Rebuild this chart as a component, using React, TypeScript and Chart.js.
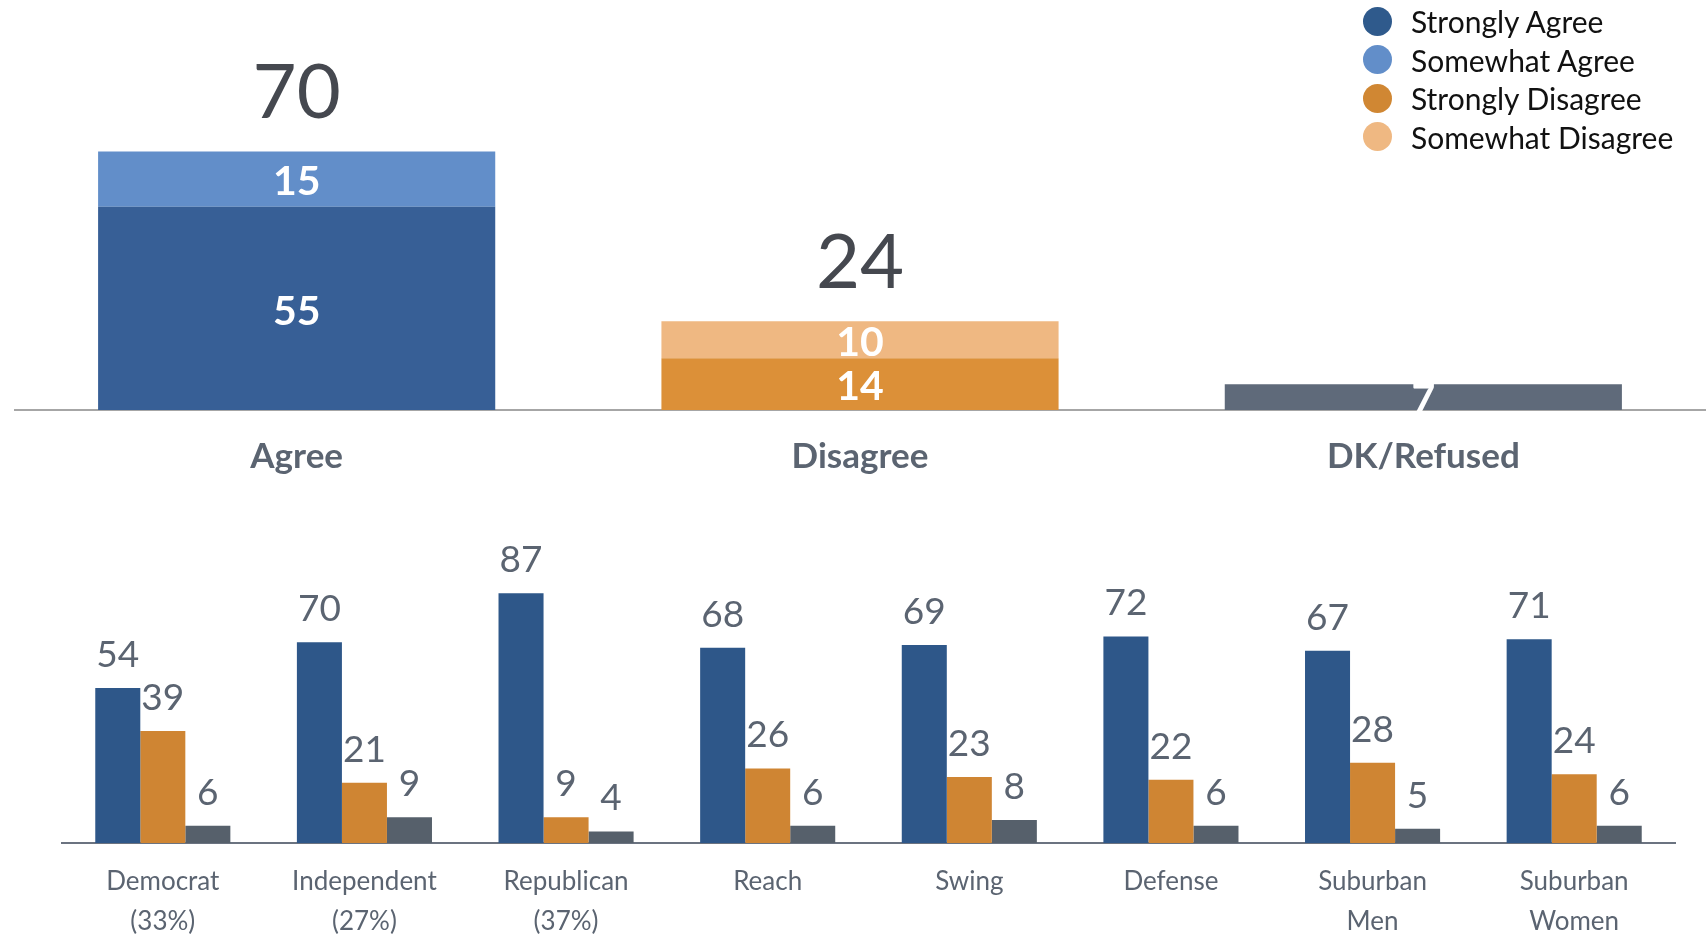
import React, { useEffect, useRef } from "react";
import { Chart, registerables } from "chart.js";
Chart.register(...registerables);

const FONT = "Lato";

const topCategories = ["Agree", "Disagree", "DK/Refused"];
const stronglyAgree = [55, null, null];
const somewhatAgree = [15, null, null];
const stronglyDisagree = [null, 14, null];
const somewhatDisagree = [null, 10, null];
const dkRefused = [null, null, 7];
const topTotals = [70, 24, null];

const legendLabels = ["Strongly Agree", "Somewhat Agree", "Strongly Disagree", "Somewhat Disagree"];
const legendColors = ["#2f5a8c", "#628ec9", "#d08733", "#efb882"];

const groupCategories = [
  ["Democrat", "(33%)"],
  ["Independent", "(27%)"],
  ["Republican", "(37%)"],
  ["Reach"],
  ["Swing"],
  ["Defense"],
  ["Suburban", "Men"],
  ["Suburban", "Women"],
];
const groupAgree = [54, 70, 87, 68, 69, 72, 67, 71];
const groupDisagree = [39, 21, 9, 26, 23, 22, 28, 24];
const groupDK = [6, 9, 4, 6, 8, 6, 5, 6];

const topLabelsPlugin = {
  id: "topLabels",
  afterDatasetsDraw(chart: any) {
    const ctx = chart.ctx;
    ctx.save();
    ctx.textAlign = "center";
    ctx.textBaseline = "middle";
    ctx.font = `bold 41px ${FONT}`;
    ctx.fillStyle = "#ffffff";
    chart.data.datasets.forEach((ds: any, i: number) => {
      const meta = chart.getDatasetMeta(i);
      meta.data.forEach((el: any, j: number) => {
        const v = ds.data[j];
        if (v == null) return;
        const p = el.getProps(["x", "y", "base"], true);
        ctx.fillText(String(v), p.x, (p.y + p.base) / 2 + 3);
      });
    });
    ctx.font = `76px ${FONT}`;
    ctx.fillStyle = "#45484f";
    topTotals.forEach((t, j) => {
      if (t == null) return;
      const x = chart.scales.x.getPixelForValue(j);
      const y = chart.scales.y.getPixelForValue(t);
      ctx.fillText(String(t), x, y - 58);
    });
    ctx.restore();
  },
};

const bottomLabelsPlugin = {
  id: "bottomLabels",
  afterDatasetsDraw(chart: any) {
    const ctx = chart.ctx;
    ctx.save();
    ctx.textAlign = "center";
    ctx.textBaseline = "middle";
    ctx.font = `37px ${FONT}`;
    ctx.fillStyle = "#5b6471";
    chart.data.datasets.forEach((ds: any, i: number) => {
      const meta = chart.getDatasetMeta(i);
      meta.data.forEach((el: any, j: number) => {
        const v = ds.data[j];
        if (v == null) return;
        const p = el.getProps(["x", "y"], true);
        ctx.fillText(String(v), p.x, p.y - 33);
      });
    });
    ctx.restore();
  },
};

export default function App() {
  const topRef = useRef<HTMLCanvasElement>(null);
  const botRef = useRef<HTMLCanvasElement>(null);

  useEffect(() => {
    const common = { barPercentage: 0.705, categoryPercentage: 1, borderWidth: 0 };
    const top = new Chart(topRef.current!, {
      type: "bar",
      data: {
        labels: topCategories,
        datasets: [
          { label: "Strongly Agree", data: stronglyAgree, backgroundColor: "#375f96", ...common },
          { label: "Somewhat Agree", data: somewhatAgree, backgroundColor: "#628ec9", ...common },
          { label: "Strongly Disagree", data: stronglyDisagree, backgroundColor: "#dc9038", ...common },
          { label: "Somewhat Disagree", data: somewhatDisagree, backgroundColor: "#efb882", ...common },
          { label: "DK/Refused", data: dkRefused, backgroundColor: "#5f6a7a", ...common },
        ] as any,
      },
      options: {
        animation: false,
        responsive: false,
        maintainAspectRatio: false,
        layout: { padding: { left: 15, right: 3, top: 0, bottom: 4 } },
        plugins: { legend: { display: false }, tooltip: { enabled: false } },
        scales: {
          x: {
            stacked: true,
            grid: { display: false, drawTicks: false },
            border: { display: true, color: "#a6a6a6", width: 2 },
            ticks: { color: "#5b6471", font: { size: 35, weight: "bold", family: FONT }, padding: 26 },
          },
          y: { stacked: true, display: false, min: 0, max: 111 },
        },
      } as any,
      plugins: [topLabelsPlugin],
    });

    const gcommon = { barPercentage: 1, categoryPercentage: 0.67, borderWidth: 0 };
    const bot = new Chart(botRef.current!, {
      type: "bar",
      data: {
        labels: groupCategories,
        datasets: [
          { label: "Agree", data: groupAgree, backgroundColor: "#2e5789", ...gcommon },
          { label: "Disagree", data: groupDisagree, backgroundColor: "#cf8533", ...gcommon },
          { label: "DK/Refused", data: groupDK, backgroundColor: "#56606b", ...gcommon },
        ] as any,
      },
      options: {
        animation: false,
        responsive: false,
        maintainAspectRatio: false,
        layout: { padding: { left: 62, right: 33, top: 0, bottom: 0 } },
        plugins: { legend: { display: false }, tooltip: { enabled: false } },
        scales: {
          x: {
            grid: { display: false, drawTicks: false },
            border: { display: true, color: "#6b7380", width: 2 },
            ticks: {
              color: "#5b6471",
              font: { size: 26, family: FONT, lineHeight: 40 / 26 },
              padding: 19,
              maxRotation: 0,
              autoSkip: false,
            },
          },
          y: { display: false, min: 0, max: 126.5 },
        },
      } as any,
      plugins: [bottomLabelsPlugin],
    });

    return () => {
      top.destroy();
      bot.destroy();
    };
  }, []);

  return (
    <div style={{ position: "fixed", left: 0, top: 0, width: 1708, height: 937, overflow: "hidden", background: "#fff" }}>
      <canvas ref={topRef} width={1708} height={508} style={{ position: "absolute", left: 0, top: 0, display: "block" }} />
      <canvas ref={botRef} width={1708} height={481} style={{ position: "absolute", left: 0, top: 480, display: "block" }} />
      <div style={{ position: "absolute", left: 1363, top: 2, fontFamily: FONT, fontSize: 30, color: "#111" }}>
        {legendLabels.map((l, i) => (
          <div key={l} style={{ display: "flex", alignItems: "center", height: 38.5 }}>
            <span
              style={{
                display: "inline-block",
                width: 29,
                height: 29,
                borderRadius: "50%",
                background: legendColors[i],
                marginRight: 19,
              }}
            />
            <span>{l}</span>
          </div>
        ))}
      </div>
    </div>
  );
}
